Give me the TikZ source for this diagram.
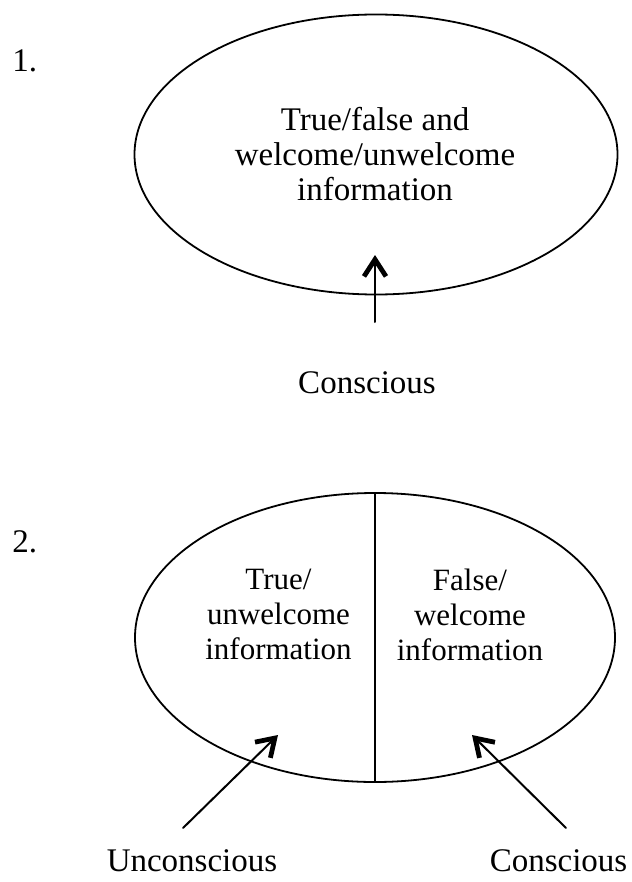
\documentclass[tikz,border=0pt]{standalone}
\usepackage{fontspec}
\setmainfont{Liberation Serif}
\usetikzlibrary{arrows.meta}
\begin{document}
\begin{tikzpicture}[x=0.5pt, y=-0.5pt, line join=round, line cap=round,
    oval/.style={line width=0.9pt},
    push/.style={line width=1pt, -{Straight Barb[length=8.5pt, width=11pt, line width=2.4pt]}},
    txt/.style={font=\fontsize{16.5}{17.5}\selectfont, inner sep=0pt},
    half/.style={font=\fontsize{15.5}{17.3}\selectfont, align=center, inner sep=0pt, anchor=north}]
  \useasboundingbox (0,0) rectangle (631,882);

  % 1. one field for everything
  \coordinate (O1) at (376,154.5);
  \coordinate (S1) at (375,322);
  \coordinate (T1) at (375,255);

  \draw[oval] (O1) ellipse [x radius=241.5, y radius=140];
  \draw[push] (S1) -- (T1);

  \node[txt, anchor=base west] (num1) at (12,72) {1.};
  \node[txt, anchor=north, align=center] (info1) at (375,107)
    {True/false and\\welcome/unwelcome\\information};
  \node[txt, anchor=base] (cons1) at (367,393) {Conscious};

  % 2. field split in two
  \coordinate (O2) at (375,637.5);
  \coordinate (D2a) at (375,493);
  \coordinate (D2b) at (375,782);
  \coordinate (S2) at (183,828);
  \coordinate (T2) at (278,735);
  \coordinate (S3) at (566,828);
  \coordinate (T3) at (472,735);

  \draw[oval] (O2) ellipse [x radius=240, y radius=144.5];
  \draw[oval] (D2a) -- (D2b);
  \draw[push] (S2) -- (T2);
  \draw[push] (S3) -- (T3);

  \node[txt, anchor=base west] (num2) at (12,552) {2.};
  \node[half] (true2) at (278.5,569) {True/\\unwelcome\\information};
  \node[half] (false2) at (470,569) {False/\\welcome\\information};
  \node[txt, anchor=base] (uncons2) at (192,871) {Unconscious};
  \node[txt, anchor=base] (cons2) at (558.5,871) {Conscious};
\end{tikzpicture}
\end{document}
